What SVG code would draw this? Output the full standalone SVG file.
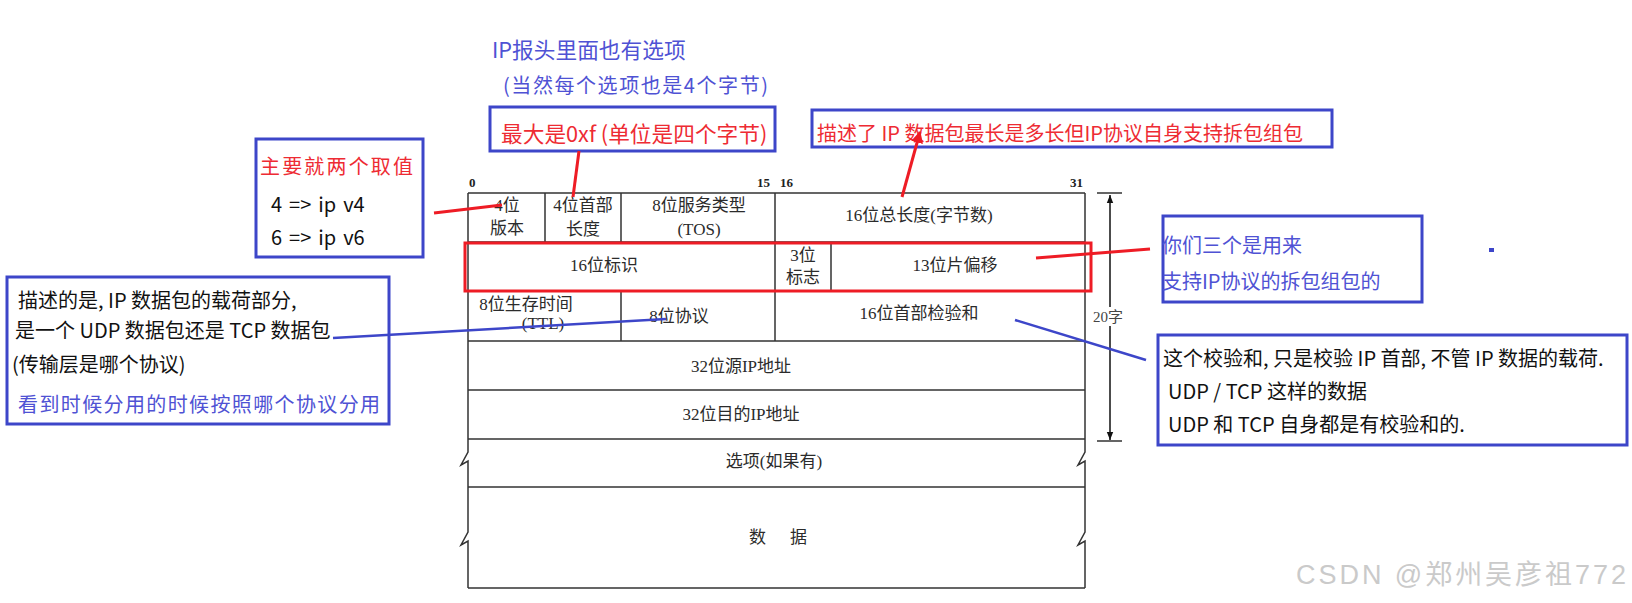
<svg xmlns="http://www.w3.org/2000/svg" width="1632" height="603" viewBox="0 0 1632 603">
<defs>
<style>
.tl{stroke:#333;stroke-width:1.5;fill:none}
.tt{font-family:"Liberation Serif","Noto Sans CJK SC",serif;font-size:17px;fill:#2b2b2b;text-anchor:middle}
.bn{font-family:"Liberation Serif",serif;font-size:13px;font-weight:bold;fill:#222}
.an{font-family:"Noto Sans CJK SC","Noto Sans",sans-serif;font-size:20px}
.ac{font-size:21.7px}
.k{fill:#111}
.r{fill:#ee2b33}
.b{fill:#4f52d4}
.bx{fill:none;stroke:#3d46c9;stroke-width:3}
.rl{stroke:#ee1c25;stroke-width:3;fill:none}
.bl{stroke:#3d46c9;stroke-width:2.5;fill:none}
</style>
<marker id="rarr" viewBox="0 0 10 10" refX="9" refY="5" markerWidth="4" markerHeight="4" orient="auto">
<path d="M0,0 L10,5 L0,10 z" fill="#ee1c25"/>
</marker>
<marker id="karr" viewBox="0 0 10 10" refX="10" refY="5" markerWidth="8" markerHeight="8" markerUnits="userSpaceOnUse" orient="auto">
<path d="M0,1 L10,5 L0,9 z" fill="#111"/>
</marker>
</defs>
<rect width="1632" height="603" fill="#fff"/>

<g id="ip-header">
<text class="bn" x="469" y="187">0</text>
<text class="bn" x="757" y="187">15</text>
<text class="bn" x="780" y="187">16</text>
<text class="bn" x="1070" y="187">31</text>
<path class="tl" d="M468,193 H1085 M468,242 H1085 M468,291 H1085 M468,341 H1085 M468,390 H1085 M468,439 H1085 M468,487 H1085 M468,588 H1085"/>
<path class="tl" d="M468,193 V452 L461,465 L468,461 V532 L461,545 L468,541 V588"/>
<path class="tl" d="M1085,193 V452 L1078,465 L1085,461 V532 L1078,545 L1085,541 V588"/>
<path class="tl" d="M545,193 V242 M621,193 V242 M775,193 V242 M775,242 V291 M831,242 V291 M621,291 V341 M775,291 V341"/>
<g id="f-version"><text class="tt" x="507" y="211">4位</text><text class="tt" x="507" y="234">版本</text></g>
<g id="f-hlen"><text class="tt" x="583" y="211">4位首部</text><text class="tt" x="583" y="235">长度</text></g>
<g id="f-tos"><text class="tt" x="699" y="211">8位服务类型</text><text class="tt" x="699" y="235">(TOS)</text></g>
<g id="f-totlen"><text class="tt" x="919" y="221">16位总长度(字节数)</text></g>
<g id="f-ident"><text class="tt" x="604" y="271">16位标识</text></g>
<g id="f-flags"><text class="tt" x="803" y="261">3位</text><text class="tt" x="803" y="283">标志</text></g>
<g id="f-frag"><text class="tt" x="955" y="271">13位片偏移</text></g>
<g id="f-ttl"><text class="tt" x="526" y="310">8位生存时间</text><text class="tt" x="543" y="329">(TTL)</text></g>
<g id="f-proto"><text class="tt" x="679" y="322">8位协议</text></g>
<g id="f-cksum"><text class="tt" x="919" y="319">16位首部检验和</text></g>
<g id="f-src"><text class="tt" x="741" y="372" font-size="18">32位源IP地址</text></g>
<g id="f-dst"><text class="tt" x="741" y="420" font-size="18">32位目的IP地址</text></g>
<g id="f-opt"><text class="tt" x="774" y="467">选项(如果有)</text></g>
<g id="f-data"><text class="tt" x="778" y="543" word-spacing="20">数 据</text></g>
</g>

<g id="dim-20">
<path class="tl" d="M1097,193 H1122 M1097,441 H1122"/>
<line x1="1110" y1="307" x2="1110" y2="195" stroke="#111" stroke-width="1.5" marker-end="url(#karr)"/>
<line x1="1110" y1="326" x2="1110" y2="440" stroke="#111" stroke-width="1.5" marker-end="url(#karr)"/>
<text x="1108" y="322" font-family="Liberation Serif,Noto Sans CJK SC,serif" font-size="15" fill="#444" text-anchor="middle">20字</text>
</g>

<g id="frag-box">
<rect x="465" y="243" width="626" height="48" class="rl"/>
</g>

<g id="note-options">
<text class="an ac b" x="492" y="58">IP报头里面也有选项</text>
<text class="an b" x="503" y="93" font-size="22" textLength="265">(当然每个选项也是4个字节)</text>
</g>

<g id="note-hlen">
<rect x="490" y="107" width="285" height="44" class="bx"/>
<text class="an ac r" x="501" y="142">最大是0xf (单位是四个字节)</text>
</g>

<g id="note-version">
<rect x="256" y="139" width="167" height="118" class="bx"/>
<text class="an r" x="260" y="174" font-size="22" textLength="153">主要就两个取值</text>
<text class="an k" x="271" y="212" font-size="21.5" word-spacing="2.5">4 =&gt; ip v4</text>
<text class="an k" x="271" y="245" font-size="21.5" word-spacing="2.5">6 =&gt; ip v6</text>
</g>

<g id="note-totlen">
<rect x="812" y="110" width="520" height="37" class="bx"/>
<text class="an r" x="817" y="141" font-size="21.6">描述了 IP 数据包最长是多长但IP协议自身支持拆包组包</text>
</g>

<g id="note-frag">
<rect x="1163" y="216" width="259" height="86" class="bx"/>
<text class="an b" x="1162" y="253" font-size="21.5">你们三个是用来</text>
<text class="an b" x="1162" y="289">支持IP协议的拆包组包的</text>
<rect x="1489" y="248" width="5" height="4" fill="#3d46c9"/>
</g>

<g id="note-proto">
<rect x="7" y="277" width="382" height="147" class="bx"/>
<text class="an k" x="18" y="308">描述的是, IP 数据包的载荷部分,</text>
<text class="an k" x="15" y="338">是一个 UDP 数据包还是 TCP 数据包</text>
<text class="an k" x="12" y="372">(传输层是哪个协议)</text>
<text class="an b" x="18" y="412" font-size="21.5" textLength="362">看到时候分用的时候按照哪个协议分用</text>
</g>

<g id="note-cksum">
<rect x="1158" y="335" width="469" height="110" class="bx"/>
<text class="an k" x="1163" y="366" font-size="20.4">这个校验和, 只是校验 IP 首部, 不管 IP 数据的载荷.</text>
<text class="an k" x="1168" y="399" font-size="20.4">UDP / TCP 这样的数据</text>
<text class="an k" x="1168" y="432" font-size="20.4">UDP 和 TCP 自身都是有校验和的.</text>
</g>

<g id="connectors">
<line class="rl" x1="434" y1="213" x2="502" y2="205"/>
<line class="rl" x1="579" y1="151" x2="573" y2="197"/>
<line class="rl" x1="902" y1="197" x2="920" y2="132" marker-end="url(#rarr)"/>
<line class="rl" x1="1036" y1="258" x2="1150" y2="249"/>
<line class="bl" x1="333" y1="338" x2="666" y2="319"/>
<line class="bl" x1="1015" y1="320" x2="1146" y2="360"/>
</g>

<g id="watermark">
<text x="1296" y="584" font-family="Liberation Sans,Noto Sans CJK SC,sans-serif" font-size="27" fill="#cacaca" textLength="330">CSDN @郑州吴彦祖772</text>
</g>
</svg>
